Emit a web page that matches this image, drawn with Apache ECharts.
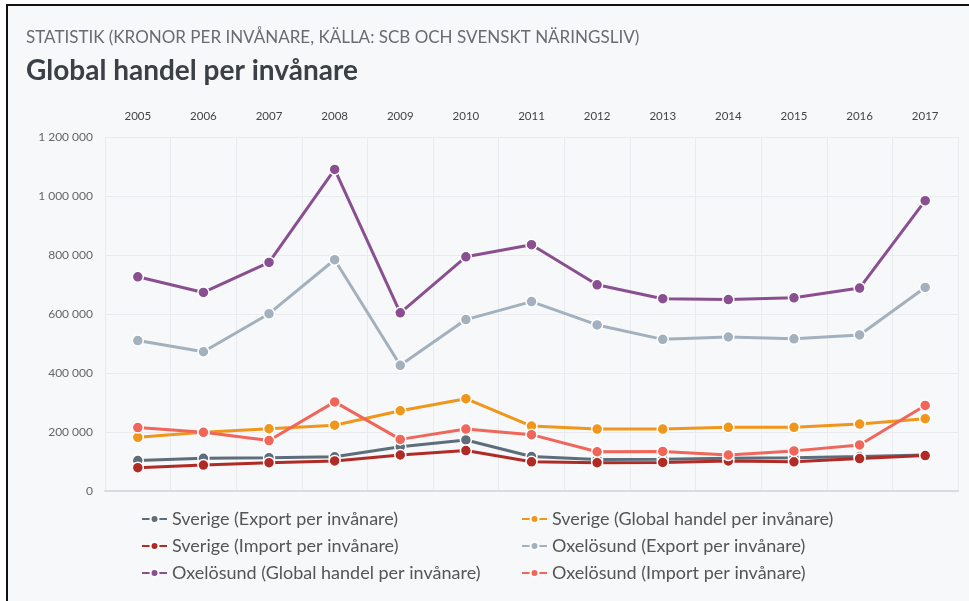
<!DOCTYPE html>
<html>
<head>
<meta charset="utf-8">
<script src="https://cdn.jsdelivr.net/npm/echarts@6/dist/echarts.min.js"></script>
<style>
	html, body { margin: 0; padding: 0; background: #fff; }
	#frame {
		position: absolute; left: 6px; top: 4px; width: 963px; height: 597px;
		border-top: 2px solid #111; border-left: 2px solid #111;
		background: #f7f8fa; box-sizing: border-box;
	}
	#chart { position: absolute; left: 0; top: 0; width: 969px; height: 601px; }
</style>
</head>
<body>
<div id="frame"></div>
<div id="chart"></div>
<script>
	var years = ['2005', '2006', '2007', '2008', '2009', '2010', '2011', '2012', '2013', '2014', '2015', '2016', '2017']

	var sverigeExport = [103000, 111000, 113000, 116000, 150000, 173000, 117000, 107000, 108000, 111000, 113000, 117000, 122000]
	var sverigeGlobal = [182000, 199000, 211000, 223000, 272000, 313000, 220000, 210000, 210000, 216000, 216000, 227000, 245000]
	var sverigeImport = [79000, 88000, 96000, 102000, 122000, 137000, 99000, 96000, 97000, 102000, 99000, 110000, 120000]
	var oxelExport = [510000, 472000, 601000, 784000, 426000, 581000, 642000, 563000, 514000, 522000, 516000, 529000, 690000]
	var oxelGlobal = [726000, 673000, 775000, 1090000, 604000, 794000, 835000, 699000, 652000, 649000, 655000, 688000, 984000]
	var oxelImport = [215000, 199000, 171000, 302000, 175000, 210000, 191000, 133000, 134000, 122000, 136000, 156000, 290000]

	var seriesList = [
		{ name: 'Sverige (Export per invånare)', data: sverigeExport, color: '#5d6d7a' },
		{ name: 'Sverige (Global handel per invånare)', data: sverigeGlobal, color: '#f0961b' },
		{ name: 'Sverige (Import per invånare)', data: sverigeImport, color: '#b02b25' },
		{ name: 'Oxelösund (Export per invånare)', data: oxelExport, color: '#a3b0bd' },
		{ name: 'Oxelösund (Global handel per invånare)', data: oxelGlobal, color: '#8a4f90' },
		{ name: 'Oxelösund (Import per invånare)', data: oxelImport, color: '#f0665a' }
	]

	var font = 'Lato'
	var chart = echarts.init(document.getElementById('chart'))

	function fmt(v) {
		return String(v).replace(/\B(?=(\d{3})+(?!\d))/g, ' ')
	}

	var legendBase = {
		orient: 'vertical',
		top: 505,
		itemWidth: 25,
		itemHeight: 10,
		itemGap: 9,
		textStyle: { fontFamily: font, fontSize: 18, color: '#555' }
	}

	chart.setOption({
		animation: false,
		textStyle: { fontFamily: font },
		title: [
			{
				text: 'STATISTIK (KRONOR PER INVÅNARE, KÄLLA: SCB OCH SVENSKT NÄRINGSLIV)',
				left: 21, top: 24,
				textStyle: { fontFamily: font, fontSize: 17, fontWeight: 'normal', color: '#676c72' }
			},
			{
				text: 'Global handel per invånare',
				left: 21, top: 52,
				textStyle: { fontFamily: font, fontSize: 28, fontWeight: 'bold', color: '#3b4046' }
			}
		],
		legend: [
			Object.assign({}, legendBase, {
				left: 136,
				data: [seriesList[0].name, seriesList[2].name, seriesList[4].name]
			}),
			Object.assign({}, legendBase, {
				left: 516,
				data: [seriesList[1].name, seriesList[3].name, seriesList[5].name]
			})
		],
		grid: { left: 105, right: 11, top: 137, bottom: 110 },
		xAxis: [
			{
				type: 'category',
				position: 'top',
				data: years,
				axisLine: { show: false },
				axisTick: { show: false },
				axisLabel: { margin: 15, fontSize: 11.5, color: '#444', fontFamily: font },
				splitLine: { show: true, lineStyle: { color: '#e9ebee' } }
			},
			{
				type: 'category',
				position: 'bottom',
				data: years,
				axisLine: { show: true, lineStyle: { color: '#d9dbde', width: 2 } },
				axisTick: { show: false },
				axisLabel: { show: false }
			}
		],
		yAxis: {
			type: 'value',
			min: 0,
			max: 1200000,
			interval: 200000,
			axisLine: { show: false },
			axisTick: { show: false },
			axisLabel: { margin: 12, fontSize: 12, color: '#666', fontFamily: font, formatter: fmt },
			splitLine: { lineStyle: { color: '#e9ebee' } }
		},
		series: seriesList.map(function (s) {
			return {
				name: s.name,
				type: 'line',
				data: s.data,
				symbol: 'circle',
				symbolSize: 11,
				color: s.color,
				lineStyle: { width: 3, color: s.color },
				itemStyle: { color: s.color, borderColor: '#fff', borderWidth: 1.5 }
			}
		})
	})
</script>
</body>
</html>
